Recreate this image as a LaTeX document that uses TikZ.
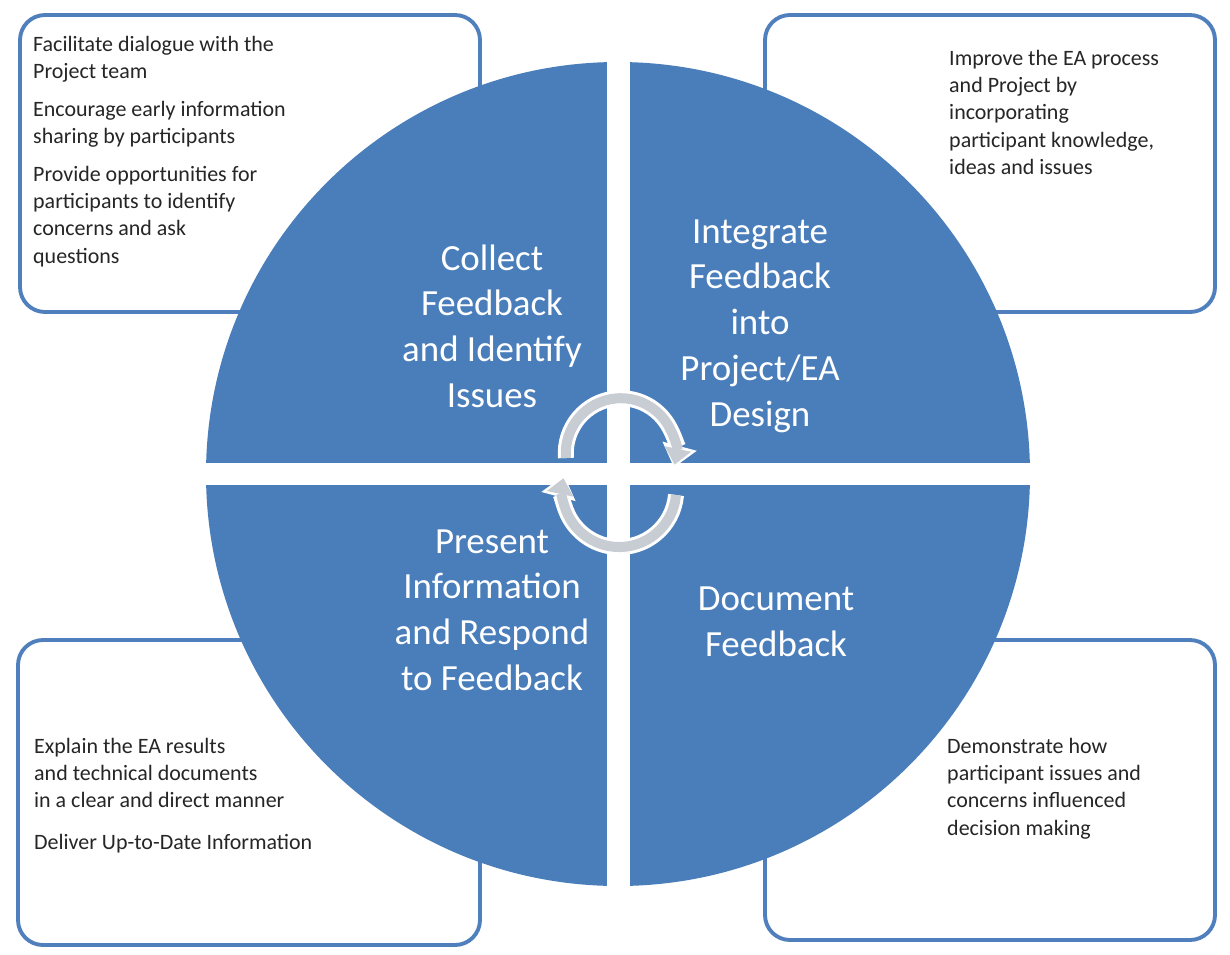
\documentclass[tikz,border=0pt]{standalone}
\usepackage{fontspec}
\setmainfont{Carlito}
\usetikzlibrary{arrows.meta}
\definecolor{qblue}{HTML}{4A7EBB}
\definecolor{bline}{HTML}{4F7FBD}
\definecolor{agray}{HTML}{C8CCD3}
\begin{document}
\begin{tikzpicture}[x=0.02cm,y=-0.02cm,
  box/.style={draw=bline,line width=2.2pt,fill=white,rounded corners=0.5cm},
  qtext/.style={text=white,align=center,font=\fontsize{21}{26}\selectfont},
  btext/.style={anchor=north west,align=left,text=black!85,font=\fontsize{12.5}{15.5}\selectfont},
  arrw/.style={line width=16*0.02cm,draw=white,-{Triangle[length=22*0.02cm,width=34*0.02cm]}},
  arrg/.style={line width=10*0.02cm,draw=agray,-{Triangle[length=16*0.02cm,width=26*0.02cm]}}]
\useasboundingbox (0,0) rectangle (1230,954);
\fill[white] (0,0) rectangle (1230,954);
% boxes
\draw[box] (20,15) rectangle (480,312);
\draw[box] (765,15) rectangle (1215,312);
\draw[box] (18,640) rectangle (480,945);
\draw[box] (765,640) rectangle (1215,940);
% circle
\coordinate (c) at (618,474);
\fill[qblue] (c) circle[radius=412*0.02cm];
\fill[white] (607,40) rectangle (630,920);
\fill[white] (190,463) rectangle (1050,485);
% arrows
\coordinate (t0) at (566,458);
\coordinate (b0) at (676,495);
\draw[arrw] (t0) arc[start angle=185,end angle=-15,radius=55*0.02cm];
\draw[arrg] (t0) arc[start angle=185,end angle=-12,radius=55*0.02cm];
\draw[arrw] (b0) arc[start angle=-5,end angle=-195,radius=57*0.02cm];
\draw[arrg] (b0) arc[start angle=-5,end angle=-192,radius=57*0.02cm];
% quadrant texts
\node[qtext] (q1) at (492,326) {Collect\\Feedback\\and Identify\\Issues};
\node[qtext] (q2) at (760,326) {Integrate\\Feedback\\into\\Project/EA\\Design};
\node[qtext] (q3) at (492,610) {Present\\Information\\and Respond\\to Feedback};
\node[qtext] (q4) at (776,622) {Document\\Feedback};
% box texts
\node[btext] (t1) at (27,30) {Facilitate dialogue with the\\Project team\\[6pt]Encourage early information\\sharing by participants\\[6pt]Provide opportunities for\\participants to identify\\concerns and ask\\questions};
\node[btext] (t2) at (943,44) {Improve the EA process\\and Project by\\incorporating\\participant knowledge,\\ideas and issues};
\node[btext] (t3) at (28,732) {Explain the EA results\\and technical documents\\in a clear and direct manner\\[8pt]Deliver Up-to-Date Information};
\node[btext] (t4) at (941,732) {Demonstrate how\\participant issues and\\concerns influenced\\decision making};
\end{tikzpicture}
\end{document}
